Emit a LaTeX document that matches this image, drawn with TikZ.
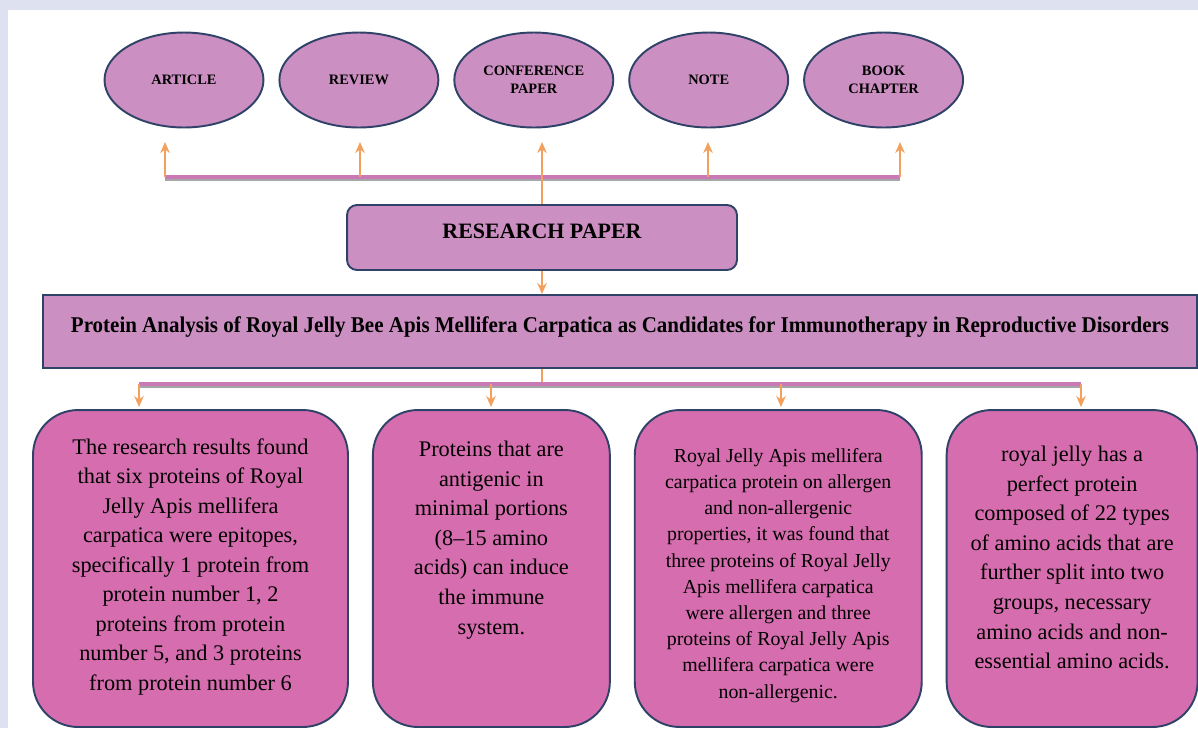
\documentclass[tikz,border=0pt]{standalone}
\usepackage{fontspec}
\setmainfont{Liberation Serif}
\usepackage{graphicx}
\usetikzlibrary{arrows.meta,positioning,shapes.geometric}

\definecolor{pagebg}{HTML}{DDE1F0}
\definecolor{lilac}{HTML}{CC8FC2}
\definecolor{orchid}{HTML}{D66DAE}
\definecolor{navy}{HTML}{2F4268}
\definecolor{arrowor}{HTML}{F2A05C}
\definecolor{busc}{HTML}{C97AB6}

\begin{document}
\begin{tikzpicture}[
  x=0.02cm,y=-0.02cm,>={Stealth[length=2.2mm,width=1.9mm]},
  kind/.style={ellipse,draw=navy,line width=1.1pt,fill=lilac,align=center,
    minimum width=3.18cm,minimum height=1.9cm,inner sep=0pt,
    font=\fontsize{8.2}{10}\selectfont\bfseries},
  paperbox/.style={draw=navy,line width=1.1pt,fill=lilac,rounded corners=0.2cm,
    minimum width=7.8cm,minimum height=1.3cm,inner sep=0pt,
    text height=8.3pt,text depth=7.7pt,font=\fontsize{12.5}{15}\selectfont\bfseries},
  titlebox/.style={draw=navy,line width=1.1pt,fill=lilac,
    minimum width=23.08cm,minimum height=1.46cm,inner sep=0pt,
    text height=8.7pt,text depth=7.5pt,font=\fontsize{12.8}{15}\selectfont\bfseries},
  findbox/.style={draw=navy,line width=1.1pt,fill=orchid,rounded corners=0.9cm,
    minimum height=6.34cm,inner sep=0pt},
  findtext/.style={align=center,inner sep=0pt,font=\fontsize{12.7}{16.8}\selectfont},
  link/.style={draw=arrowor,line width=1.4pt},
  bus/.style={draw=busc,line width=2.3pt},
  busshade/.style={draw=black!35,line width=2.3pt,transform canvas={yshift=-1.2pt}}]
\fill[pagebg] (0,0) rectangle (1198,728);
\fill[white] (8,10) rectangle (1198,728);
\useasboundingbox (0,0) rectangle (1198,728);

\node[kind] (article) at (184,80) {ARTICLE};
\node[kind,right=0.28cm of article] (review) {REVIEW};
\node[kind,right=0.28cm of review] (conf) {CONFERENCE\\PAPER};
\node[kind,right=0.28cm of conf] (note) {NOTE};
\node[kind,right=0.28cm of note] (book) {BOOK\\CHAPTER};

\node[paperbox] (paper) at (542,237.5) {RESEARCH PAPER};
\node[titlebox] (topic) at (620,331.5) {\resizebox{625pt}{\height}{Protein Analysis
  of Royal Jelly Bee Apis Mellifera Carpatica as Candidates for Immunotherapy in
  Reproductive Disorders}};

\node[findbox,minimum width=6.3cm] (find1) at (190.5,568.5) {};
\node[findbox,minimum width=4.74cm,right=0.46cm of find1] (find2) {};
\node[findbox,minimum width=5.74cm,right=0.46cm of find2] (find3) {};
\node[findbox,minimum width=5.02cm,right=0.46cm of find3] (find4) {};
\node[findtext,below=0.58cm of find1.north] (text1) {The research results found\\
  that six proteins of Royal\\Jelly Apis mellifera\\carpatica were epitopes,\\
  specifically 1 protein from\\protein number 1, 2\\proteins from protein\\
  number 5, and 3 proteins\\from protein number 6};
\node[findtext,below=0.64cm of find2.north] (text2) {Proteins that are\\antigenic in\\
  minimal portions\\(8--15 amino\\acids) can induce\\the immune\\system.};
\node[findtext,below=0.78cm of find3.north,font=\fontsize{11.3}{14.9}\selectfont]
  (text3) {Royal Jelly Apis mellifera\\carpatica protein on allergen\\
  and non-allergenic\\properties, it was found that\\three proteins of Royal Jelly\\
  Apis mellifera carpatica\\were allergen and three\\proteins of Royal Jelly Apis\\
  mellifera carpatica were\\non-allergenic.};
\node[findtext,below=0.74cm of find4.north] (text4) {royal jelly has a\\perfect protein\\
  composed of 22 types\\of amino acids that are\\further split into two\\
  groups, necessary\\amino acids and non-\\essential amino acids.};

\coordinate (busA) at (165,177);
\coordinate (busB) at (360,177);
\coordinate (busD) at (708,177);
\coordinate (busE) at (900,177);
\coordinate (upTip) at (0,142);
\coordinate (lowA) at (139,384);
\coordinate (lowB) at (491,384);
\coordinate (lowC) at (781,384);
\coordinate (lowD) at (1081,384);
\coordinate (downTip) at (0,407);

\draw[busshade] (busA) -- (busE);
\draw[bus] (busA) -- (busE);
\foreach \c in {busA,busB,busD,busE}
  \draw[link,->] (\c) -- (\c |- upTip);
\draw[link,->] (paper.north) -- (paper.north |- upTip);
\draw[link,->] (paper.south) -- (paper.south |- topic.north);

\draw[link] (paper.south |- topic.south) -- (paper.south |- lowA);
\draw[busshade] (lowA) -- (lowD);
\draw[bus] (lowA) -- (lowD);
\foreach \c in {lowA,lowB,lowC,lowD}
  \draw[link,->] (\c) -- (\c |- downTip);
\end{tikzpicture}
\end{document}
